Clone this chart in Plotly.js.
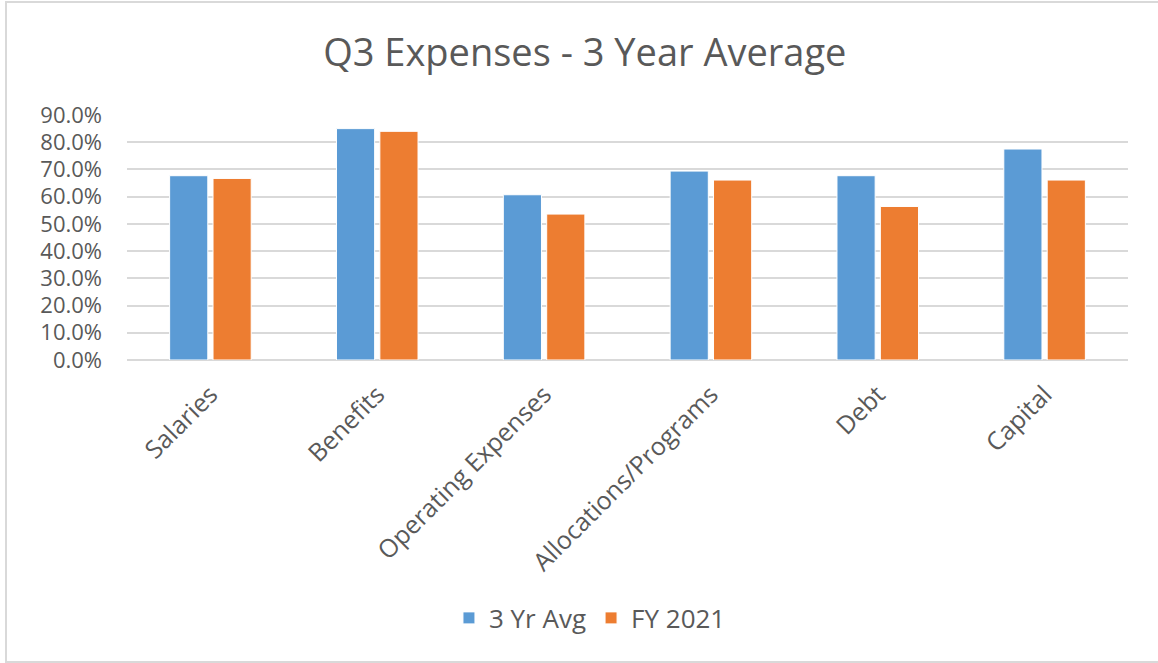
<!DOCTYPE html>
<html>
<head>
<meta charset="utf-8">
<script src="https://cdn.plot.ly/plotly-3.0.1.min.js"></script>
<style>
  html, body { margin: 0; padding: 0; background: #fff; }
  #chart { width: 1158px; height: 663px; position: absolute; left: 0; top: 0; }
  #frame { position: absolute; left: 5px; top: 1px; width: 1160px; height: 662px;
           border: 2px solid #d9d9d9; border-right: none; pointer-events: none; box-sizing: border-box; }
</style>
</head>
<body>
<div id="chart"></div>
<div id="frame"></div>
<script>
const categories = ["Salaries", "Benefits", "Operating Expenses", "Allocations/Programs", "Debt", "Capital"];
const avg3yr = [0.677, 0.850, 0.607, 0.694, 0.677, 0.775];
const fy2021 = [0.667, 0.840, 0.536, 0.661, 0.564, 0.661];
const seriesNames = ["3 Yr Avg", "FY 2021"];
const yTicks = [0, 0.1, 0.2, 0.3, 0.4, 0.5, 0.6, 0.7, 0.8, 0.9];

const FONT = "'Open Sans', 'Noto Sans', sans-serif";
const GRAY = "#595959";

const traces = [
  { type: "bar", name: seriesNames[0], x: categories, y: avg3yr,
    marker: { color: "#5B9BD5", line: { color: "#ffffff", width: 1 } }, hoverinfo: "skip" },
  { type: "bar", name: seriesNames[1], x: categories, y: fy2021,
    marker: { color: "#ED7D31", line: { color: "#ffffff", width: 1 } }, hoverinfo: "skip" }
];

const layout = {
  width: 1158, height: 663,
  paper_bgcolor: "#ffffff", plot_bgcolor: "#ffffff",
  margin: { l: 127, r: 30, t: 115, b: 303, autoexpand: false },
  font: { family: FONT, color: GRAY },
  title: { text: "Q3 Expenses - 3 Year Average", x: 0.505, xanchor: "center", y: 0.921, yanchor: "middle",
           font: { family: FONT, size: 38, color: GRAY } },
  barmode: "group", bargap: 0.48, bargroupgap: 0.12,
  xaxis: { type: "category", tickangle: -45, tickfont: { family: FONT, size: 25, color: GRAY },
           showgrid: false, showline: false, ticks: "", zeroline: false, fixedrange: true,
           ticklabelstandoff: 14 },
  yaxis: { range: [0, 0.9], tickvals: yTicks, tickformat: ".1%",
           tickfont: { family: FONT, size: 22, color: GRAY },
           showgrid: true, gridcolor: "#d9d9d9", gridwidth: 2, zeroline: true, zerolinecolor: "#d9d9d9", zerolinewidth: 2,
           showline: false, ticks: "", ticklabelstandoff: 24, fixedrange: true },
  showlegend: true,
  legend: { orientation: "h", x: 0.4625, xanchor: "center", y: -1.053, yanchor: "middle",
            font: { family: FONT, size: 26, color: GRAY }, itemwidth: 30, traceorder: "normal" }
};

Plotly.newPlot("chart", traces, layout, { displayModeBar: false, staticPlot: true });
</script>
</body>
</html>
